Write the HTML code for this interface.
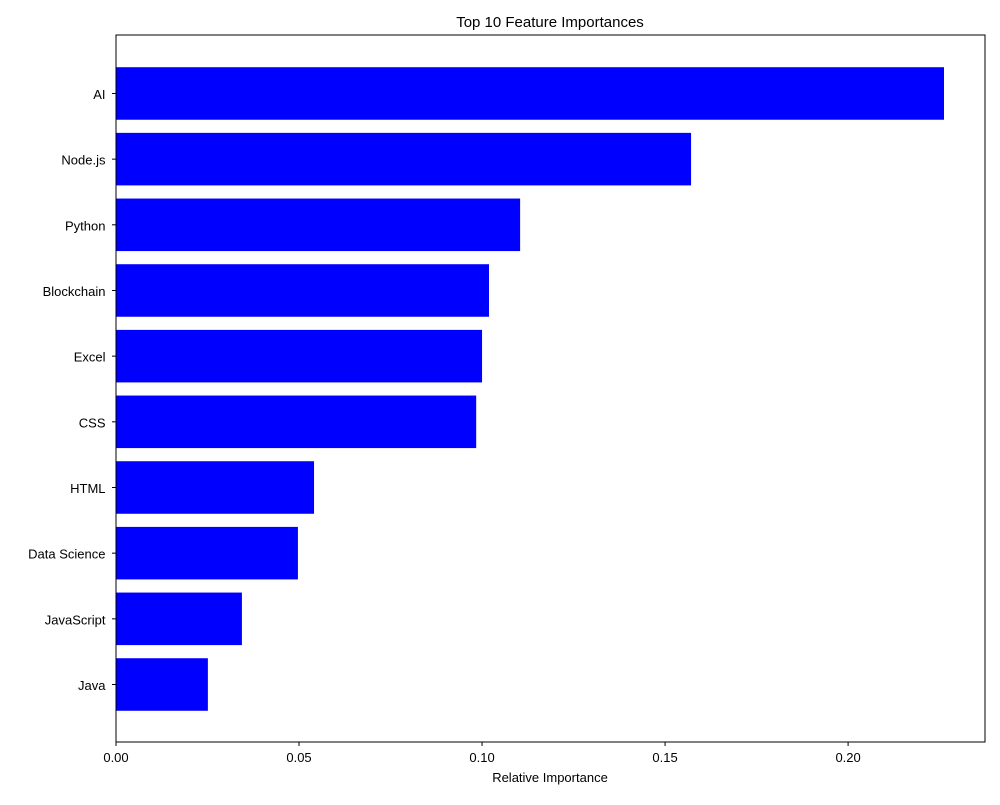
<!DOCTYPE html>
<html><head><meta charset="utf-8"><style>
body{margin:0;background:#fff;}
svg text{font-family:"Liberation Sans","DejaVu Sans",sans-serif;fill:#000;}
</style></head><body>
<svg id="chart" width="1000" height="800" xmlns="http://www.w3.org/2000/svg">
<rect width="1000" height="800" fill="#fff"/>
<text x="550" y="27" font-size="15" text-anchor="middle">Top 10 Feature Importances</text>
<g id="bars"></g>
<g id="axes"></g>
<text x="550" y="782" font-size="13" text-anchor="middle">Relative Importance</text>
</svg>
<script>
const categories = ["Java","JavaScript","Data Science","HTML","CSS","Excel","Blockchain","Python","Node.js","AI"];
const values = [0.0251,0.0344,0.0497,0.0541,0.0984,0.1000,0.1019,0.1104,0.1571,0.2262];
const xTicks = [0,0.05,0.10,0.15,0.20];
const xTickLabels = ["0.00","0.05","0.10","0.15","0.20"];

const L=116,R=985,T=35,B=742;
const xMax=0.2374;
const xs=v=>L+(v/xMax)*(R-L);
const step=65.67;
const ys=i=>684.5-step*i;
const bh=step*0.8;
const NS="http://www.w3.org/2000/svg";
const bars=document.getElementById('bars');
const axes=document.getElementById('axes');
function mk(tag,attrs,parent){const e=document.createElementNS(NS,tag);for(const k in attrs)e.setAttribute(k,attrs[k]);parent.appendChild(e);return e;}
categories.forEach((c,i)=>{
  const r=mk('rect',{x:xs(0),y:ys(i)-bh/2,width:xs(values[i])-xs(0),height:bh,fill:'#0000ff'},bars);
  
  
  const t=mk('line',{x1:L-4,x2:L,y1:ys(i),y2:ys(i),stroke:'#000','stroke-width':1},axes);
  
  
  const lb=mk('text',{x:L-10.5,y:ys(i)+5.5,'font-size':13,'text-anchor':'end'},axes);
  lb.textContent=c;
  
  
});
xTicks.forEach((v,i)=>{
  const t=mk('line',{x1:xs(v),x2:xs(v),y1:B,y2:B+4,stroke:'#000','stroke-width':1},axes);
  
  
  const lb=mk('text',{x:xs(v),y:B+20,'font-size':13,'text-anchor':'middle'},axes);
  lb.textContent=xTickLabels[i];
  
  
});
const frame=mk('rect',{x:L,y:T,width:R-L,height:B-T,fill:'none',stroke:'#000','stroke-width':1},axes);


</script>
</body></html>
